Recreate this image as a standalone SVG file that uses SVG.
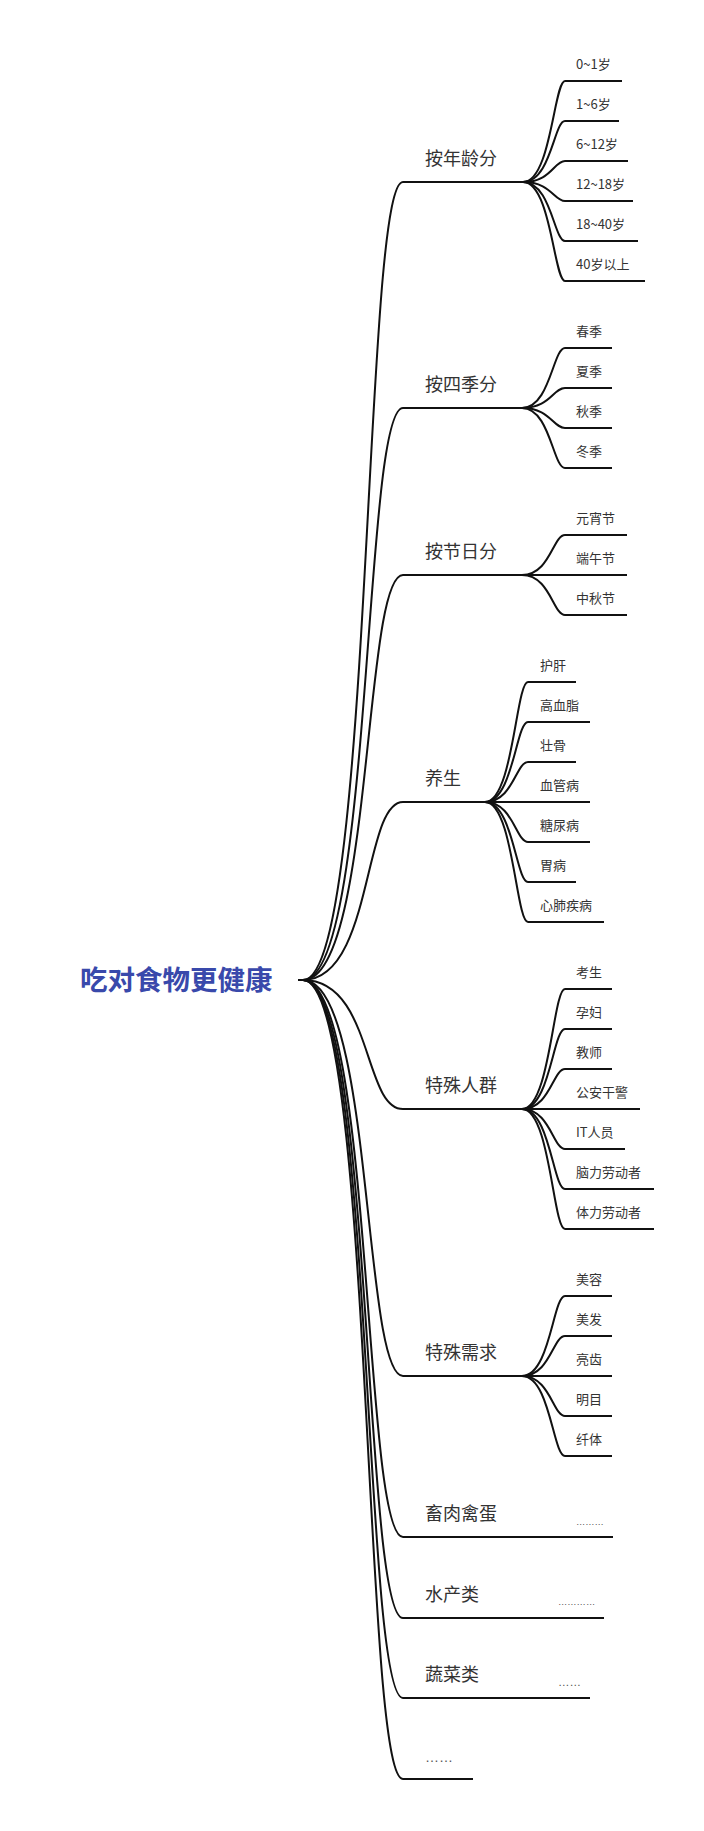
<svg xmlns="http://www.w3.org/2000/svg" width="704" height="1831" viewBox="0 0 704 1831">
<style>
.c{fill:none;stroke:#111;stroke-width:2}
.t1{font-family:"Noto Sans CJK SC",sans-serif;font-size:18px;fill:#333}
.t2{font-family:"Noto Sans CJK SC",sans-serif;font-size:13px;fill:#333}
.d{font-family:"Liberation Sans",sans-serif;fill:#555}
.root{font-family:"Noto Sans CJK SC",sans-serif;font-size:27.5px;font-weight:bold;fill:#3949ab}
</style>
<rect width="704" height="1831" fill="#fff"/>
<g id="connectors">
<path class="c" d="M298,980 H303 C373,980 363,182 403,182 H523"/>
<path class="c" d="M303,980 C373,980 363,408 403,408 H522"/>
<path class="c" d="M303,980 C373,980 363,575 403,575 H522"/>
<path class="c" d="M303,980 C373,980 363,802 403,802 H485"/>
<path class="c" d="M303,980 C373,980 363,1109 403,1109 H522"/>
<path class="c" d="M303,980 C373,980 363,1376 403,1376 H522"/>
<path class="c" d="M303,980 C373,980 363,1537 403,1537 H613"/>
<path class="c" d="M303,980 C373,980 363,1618 403,1618 H604"/>
<path class="c" d="M303,980 C373,980 363,1698 403,1698 H590"/>
<path class="c" d="M303,980 C373,980 363,1779 403,1779 H473"/>
<path class="c" d="M523,182 C551,182 554,81 565,81 H622"/>
<path class="c" d="M523,182 C551,182 554,121 565,121 H619"/>
<path class="c" d="M523,182 C551,182 554,161 565,161 H628"/>
<path class="c" d="M523,182 C551,182 554,201 565,201 H633"/>
<path class="c" d="M523,182 C551,182 554,241 565,241 H638"/>
<path class="c" d="M523,182 C551,182 554,281 565,281 H645"/>
<path class="c" d="M522,408 C550,408 553,348 565,348 H612"/>
<path class="c" d="M522,408 C550,408 553,388 565,388 H612"/>
<path class="c" d="M522,408 C550,408 553,428 565,428 H612"/>
<path class="c" d="M522,408 C550,408 553,468 565,468 H612"/>
<path class="c" d="M522,575 C550,575 553,535 565,535 H627"/>
<path class="c" d="M522,575 H627"/>
<path class="c" d="M522,575 C550,575 553,615 565,615 H627"/>
<path class="c" d="M485,802 C513,802 516,682 528,682 H576"/>
<path class="c" d="M485,802 C513,802 516,722 528,722 H590"/>
<path class="c" d="M485,802 C513,802 516,762 528,762 H576"/>
<path class="c" d="M485,802 H590"/>
<path class="c" d="M485,802 C513,802 516,842 528,842 H590"/>
<path class="c" d="M485,802 C513,802 516,882 528,882 H576"/>
<path class="c" d="M485,802 C513,802 516,922 528,922 H604"/>
<path class="c" d="M522,1109 C550,1109 553,989 565,989 H612"/>
<path class="c" d="M522,1109 C550,1109 553,1029 565,1029 H612"/>
<path class="c" d="M522,1109 C550,1109 553,1069 565,1069 H612"/>
<path class="c" d="M522,1109 H640"/>
<path class="c" d="M522,1109 C550,1109 553,1149 565,1149 H625"/>
<path class="c" d="M522,1109 C550,1109 553,1189 565,1189 H654"/>
<path class="c" d="M522,1109 C550,1109 553,1229 565,1229 H654"/>
<path class="c" d="M522,1376 C550,1376 553,1296 565,1296 H612"/>
<path class="c" d="M522,1376 C550,1376 553,1336 565,1336 H612"/>
<path class="c" d="M522,1376 H612"/>
<path class="c" d="M522,1376 C550,1376 553,1416 565,1416 H612"/>
<path class="c" d="M522,1376 C550,1376 553,1456 565,1456 H612"/>
</g>
<g id="root"><text class="root" x="80" y="990">吃对食物更健康</text></g>
<g id="b-age">
<text class="t1" x="425" y="165">按年龄分</text>
<text class="t2" x="576" y="69">0~1岁</text>
<text class="t2" x="576" y="109">1~6岁</text>
<text class="t2" x="576" y="149">6~12岁</text>
<text class="t2" x="576" y="189">12~18岁</text>
<text class="t2" x="576" y="229">18~40岁</text>
<text class="t2" x="576" y="269">40岁以上</text>
</g>
<g id="b-season">
<text class="t1" x="425" y="391">按四季分</text>
<text class="t2" x="576" y="336">春季</text>
<text class="t2" x="576" y="376">夏季</text>
<text class="t2" x="576" y="416">秋季</text>
<text class="t2" x="576" y="456">冬季</text>
</g>
<g id="b-festival">
<text class="t1" x="425" y="558">按节日分</text>
<text class="t2" x="576" y="523">元宵节</text>
<text class="t2" x="576" y="563">端午节</text>
<text class="t2" x="576" y="603">中秋节</text>
</g>
<g id="b-health">
<text class="t1" x="425" y="785">养生</text>
<text class="t2" x="540" y="670">护肝</text>
<text class="t2" x="540" y="710">高血脂</text>
<text class="t2" x="540" y="750">壮骨</text>
<text class="t2" x="540" y="790">血管病</text>
<text class="t2" x="540" y="830">糖尿病</text>
<text class="t2" x="540" y="870">胃病</text>
<text class="t2" x="540" y="910">心肺疾病</text>
</g>
<g id="b-people">
<text class="t1" x="425" y="1092">特殊人群</text>
<text class="t2" x="576" y="977">考生</text>
<text class="t2" x="576" y="1017">孕妇</text>
<text class="t2" x="576" y="1057">教师</text>
<text class="t2" x="576" y="1097">公安干警</text>
<text class="t2" x="576" y="1137">IT人员</text>
<text class="t2" x="576" y="1177">脑力劳动者</text>
<text class="t2" x="576" y="1217">体力劳动者</text>
</g>
<g id="b-needs">
<text class="t1" x="425" y="1359">特殊需求</text>
<text class="t2" x="576" y="1284">美容</text>
<text class="t2" x="576" y="1324">美发</text>
<text class="t2" x="576" y="1364">亮齿</text>
<text class="t2" x="576" y="1404">明目</text>
<text class="t2" x="576" y="1444">纤体</text>
</g>
<g id="b-meat">
<text class="t1" x="425" y="1520">畜肉禽蛋</text>
<text class="d" x="576" y="1525" font-size="9.3">………</text>
</g>
<g id="b-aquatic">
<text class="t1" x="425" y="1601">水产类</text>
<text class="d" x="558" y="1605" font-size="9.3">…………</text>
</g>
<g id="b-veg">
<text class="t1" x="425" y="1681">蔬菜类</text>
<text class="d" x="558" y="1686" font-size="11.5">……</text>
</g>
<g id="b-more">
<text class="d" x="425" y="1762" font-size="14" fill="#222">……</text>
</g>
</svg>
